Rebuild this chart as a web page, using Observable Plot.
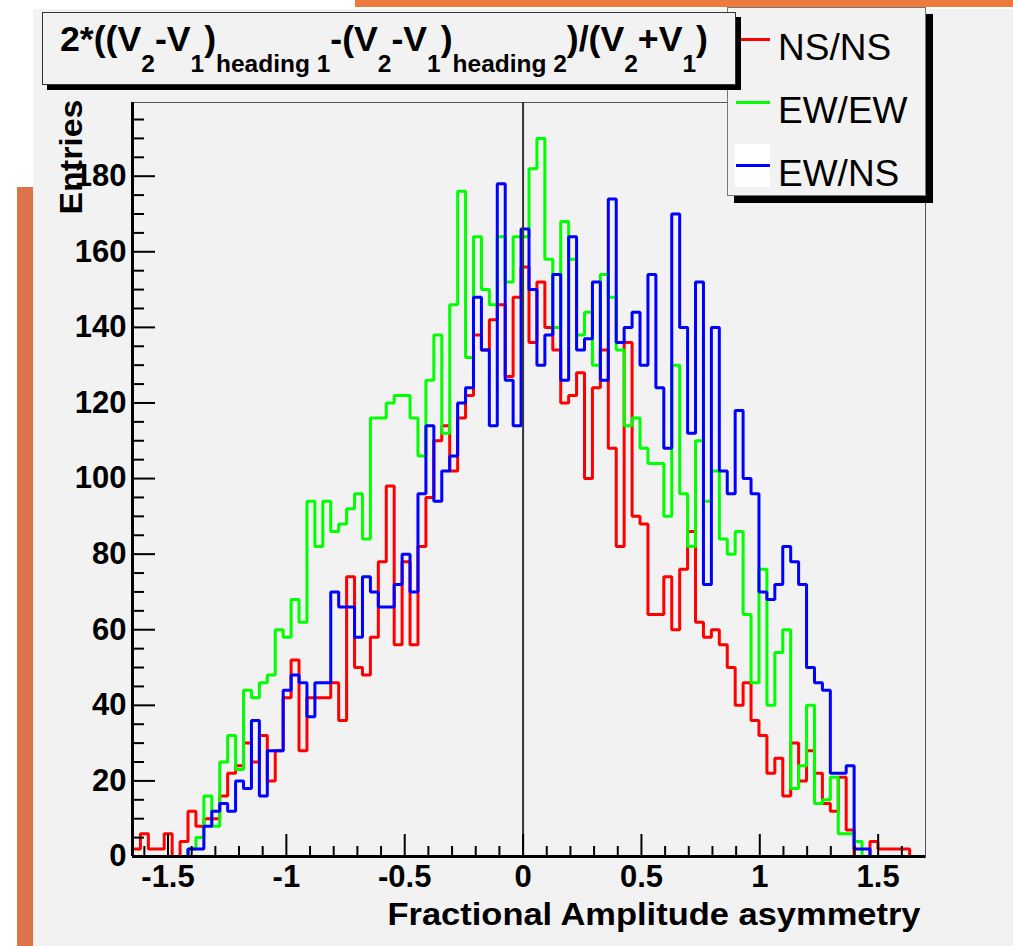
<!DOCTYPE html>
<html><head><meta charset="utf-8">
<script src="https://cdn.jsdelivr.net/npm/d3@7"></script>
<script src="https://cdn.jsdelivr.net/npm/@observablehq/plot@0.6"></script>
<style>
html,body{margin:0;padding:0;background:#fff;}
#page{position:relative;width:1013px;height:946px;overflow:hidden;background:#fff;font-family:"Liberation Sans",Arial,sans-serif;}
#canvas{position:absolute;left:33px;top:9px;width:980px;height:937px;background:#f2f2f2;}
#orangeLeft{position:absolute;left:17px;top:187px;width:16px;height:759px;background:#dc7349;}
#orangeTop{position:absolute;left:355px;top:0;width:658px;height:7px;background:#ec7a3c;}
#chart{position:absolute;left:0;top:0;}
#title{position:absolute;left:42px;top:12px;width:692px;height:71px;background:#f2f2f2;border:1px solid #333;box-shadow:5px 5px 0 #000;z-index:3;}
#titleText{position:absolute;left:17px;top:8px;white-space:nowrap;font-weight:bold;line-height:1;transform-origin:0 0;color:#000;}
#titleText .m{font-size:35px;}
#titleText .s{font-size:24px;vertical-align:-21px;}
#legend{position:absolute;left:727px;top:7px;width:197px;height:187px;background:#f2f2f2;border:1px solid #777;box-shadow:7px 7px 0 #000;z-index:2;}
.lg{position:absolute;left:50px;font-size:37px;line-height:1;color:#000;white-space:nowrap;}
.ll{position:absolute;left:8px;width:34px;height:3px;}
#wbox{position:absolute;left:7px;top:136px;width:35px;height:43px;background:#fff;}
</style></head>
<body>
<div id="page">
  <div id="canvas"></div>
  <div id="orangeLeft"></div>
  <div id="orangeTop"></div>
  <div id="chart"></div>
  <div id="legend">
    <div class="ll" style="top:30px;background:#ff0000"></div>
    <div class="lg" style="top:21px">NS/NS</div>
    <div class="ll" style="top:93px;background:#00ff00"></div>
    <div class="lg" style="top:84px">EW/EW</div>
    <div id="wbox"></div>
    <div class="ll" style="top:156px;background:#0000ff"></div>
    <div class="lg" style="top:147px">EW/NS</div>
  </div>
  <div id="title"><div id="titleText"><span class="m">2*((V</span><span class="s">2</span><span class="m">-V</span><span class="s">1</span><span class="m">)</span><span class="s">heading 1</span><span class="m">-(V</span><span class="s">2</span><span class="m">-V</span><span class="s">1</span><span class="m">)</span><span class="s">heading 2</span><span class="m">)/(V</span><span class="s">2</span><span class="m">+V</span><span class="s">1</span><span class="m">)</span></div></div>
</div>
<script>
// Histogram binning
const xMin = -1.65, xMax = 1.70, nBins = 100;
const yMax = 199.5;

// NS/NS (red)
const nsns = [2,6,2,2,6,0,4,12,8,10, 10,16,22,24,30,25,32,20,28,42, 52,28,42,42,42,46,36,74,50,48,
  58,78,98,56,78,56,82,95,110,114, 102,116,122,138,134,142,146,127,148,156,
  136,152,140,134,120,122,128,100,124,134, 108,82,136,90,88,64,64,74,60,76,
  86,62,58,60,56,50,40,46,36,32, 22,26,16,30,20,28,22,14,12,21, 7,0,0,4,2,2,2,2,0,0];
// EW/EW (green)
const ewew = [0,0,0,0,0,0,0,2,5,16, 8,25,32,23,44,42,46,48,60,58, 68,62,94,82,94,86,88,92,96,84,
  116,116,120,122,122,116,106,126,138,112, 146,176,132,164,150,146,164,152,164,164,
  182,190,158,140,168,158,138,144,130,154, 148,134,114,116,108,104,104,90,130,96,
  82,110,94,102,84,80,86,64,46,76, 40,54,60,18,24,40,14,15,21,6, 6,4,0,0,0,0,0,0,0,0];
// EW/NS (blue)
const ewns = [0,0,0,0,0,0,0,2,2,8, 12,14,12,20,18,36,16,28,28,44, 48,46,37,46,46,70,66,66,58,74,
  70,66,66,72,80,70,96,114,94,102, 106,120,124,148,134,114,178,126,114,166,
  150,130,138,154,126,164,134,137,152,126, 174,136,140,144,130,154,124,108,170,140,
  112,152,72,140,102,96,118,100,96,70, 68,72,82,78,72,50,46,44,22,22, 24,2,2,0,0,0,0,0,0,0];

const seriesNames = ["NS/NS", "EW/EW", "EW/NS"];
const seriesColors = ["#ff0000", "#00ff00", "#0000ff"];

const yMajor = [0,20,40,60,80,100,120,140,160,180];
const yMinor = [5,10,15,25,30,35,45,50,55,65,70,75,85,90,95,105,110,115,125,130,135,145,150,155,165,170,175,185,190,195];
const xMajor = [-1.5,-1,-0.5,0,0.5,1,1.5];
const xMajorLabels = ["-1.5","-1","-0.5","0","0.5","1","1.5"];
const xMinor = [-1.6,-1.4,-1.3,-1.2,-1.1,-0.9,-0.8,-0.7,-0.6,-0.4,-0.3,-0.2,-0.1,0.1,0.2,0.3,0.4,0.6,0.7,0.8,0.9,1.1,1.2,1.3,1.4,1.6];

const xLabel = "Fractional Amplitude asymmetry";
const yLabel = "Entries";

const W = 1013, H = 946, mL = 132, mR = 88, mT = 102, mB = 90;
const plotW = W - mL - mR, plotH = H - mT - mB;
const binW = (xMax - xMin) / nBins;

function steps(values, name) {
  const pts = values.map((v, i) => ({x: xMin + i * binW, y: v, s: name}));
  pts.push({x: xMax, y: values[values.length - 1], s: name});
  return pts;
}
const allSeries = [nsns, ewew, ewns];

const font = "Liberation Sans, Arial, sans-serif";
const chart = Plot.plot({
  width: W, height: H,
  marginLeft: mL, marginRight: mR, marginTop: mT, marginBottom: mB,
  style: {background: "transparent", fontFamily: font, color: "#000"},
  x: {domain: [xMin, xMax]},
  y: {domain: [0, yMax]},
  marks: [
    Plot.frame({stroke: "#555", strokeWidth: 1}),
    ...allSeries.map((vals, k) => Plot.line(steps(vals, seriesNames[k]), {
      x: "x", y: "y", curve: "step-after", stroke: seriesColors[k], strokeWidth: 3,
      strokeLinejoin: "miter", strokeLinecap: "butt"
    })),
    Plot.ruleX([0], {stroke: "#333", strokeWidth: 2}),
    Plot.ruleX([xMin], {stroke: "#000", strokeWidth: 3}),
    Plot.ruleY([0], {stroke: "#000", strokeWidth: 3}),
    Plot.tickY(yMajor, {y: d => d, stroke: "#000", strokeWidth: 2, insetRight: plotW - 23}),
    Plot.tickY(yMinor, {y: d => d, stroke: "#000", strokeWidth: 2, insetRight: plotW - 12}),
    Plot.tickX(xMajor, {x: d => d, stroke: "#000", strokeWidth: 2, insetTop: plotH - 22}),
    Plot.tickX(xMinor, {x: d => d, stroke: "#000", strokeWidth: 2, insetTop: plotH - 10}),
    Plot.axisY(yMajor, {anchor: "left", tickSize: 0, tickPadding: 6, fontSize: 31, fontWeight: "bold",
      tickFormat: d => String(d), label: null}),
    Plot.axisX(xMajor, {anchor: "bottom", tickSize: 0, tickPadding: 8, fontSize: 31, fontWeight: "bold",
      tickFormat: (d, i) => xMajorLabels[xMajor.indexOf(d)], label: null}),
    Plot.text([xLabel], {frameAnchor: "bottom-right", textAnchor: "end", lineAnchor: "bottom",
      dx: -5, dy: 68, fontSize: 31, fontWeight: "bold", fill: "#000"}),
    Plot.text([yLabel], {frameAnchor: "top-left", textAnchor: "end", rotate: -90,
      dx: -73, dy: -3, fontSize: 31, fontWeight: "bold", fill: "#000"})
  ]
});
document.getElementById("chart").appendChild(chart);

// fit label lengths to the reference
d3.select(chart).selectAll("text").each(function() {
  if (this.textContent === xLabel) { this.setAttribute("textLength", 533); this.setAttribute("lengthAdjust", "spacingAndGlyphs"); }
  if (this.textContent === yLabel) { this.setAttribute("textLength", 115); this.setAttribute("lengthAdjust", "spacingAndGlyphs"); }
});
// scale title horizontally to reference width
const tt = document.getElementById("titleText");
const w = tt.getBoundingClientRect().width;
tt.style.transform = `scaleX(${648 / w})`;
</script>
</body></html>
